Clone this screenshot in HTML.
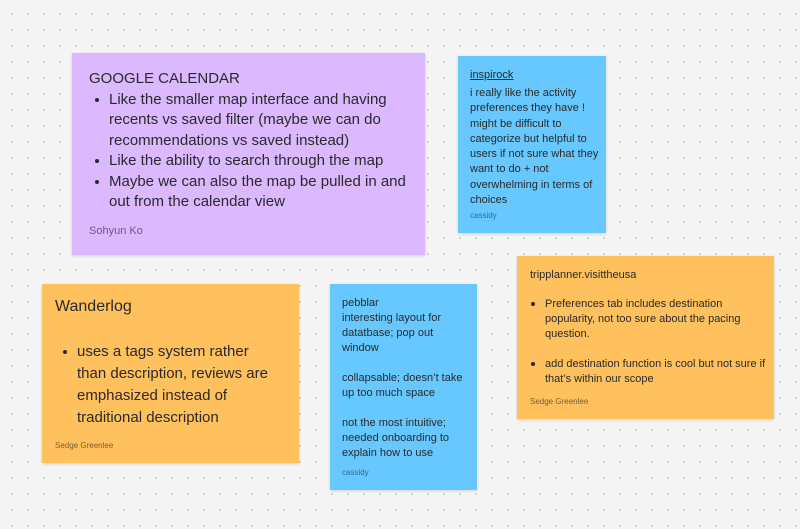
<!DOCTYPE html>
<html><head><meta charset="utf-8"><style>
html,body{margin:0;padding:0}
body{width:800px;height:529px;position:relative;overflow:hidden;background:#f5f5f5;
background-image:radial-gradient(circle,#cfcfcf 0.9px,transparent 1.2px);background-size:16px 16px;background-position:4px 6px;
font-family:"Liberation Sans",sans-serif;color:#2a2a2a}
.n{position:absolute;box-shadow:0 1px 3px rgba(0,0,0,0.15)}
.t{position:absolute;white-space:nowrap}
.b::before{content:"";position:absolute;left:-14px;top:50%;width:4px;height:4px;border-radius:50%;background:#2a2a2a;margin-top:-2px}
</style></head><body>
<div class="n" style="left:72px;top:53px;width:353px;height:202px;background:#dcb8fe"></div>
<div class="t" style="left:89px;top:70px;font-size:15px">GOOGLE CALENDAR</div>
<div class="t b" style="left:109px;top:91px;font-size:15px">Like the smaller map interface and having</div>
<div class="t" style="left:109px;top:111px;font-size:15px">recents vs saved filter (maybe we can do</div>
<div class="t" style="left:109px;top:132px;font-size:15px">recommendations vs saved instead)</div>
<div class="t b" style="left:109px;top:152px;font-size:15px">Like the ability to search through the map</div>
<div class="t b" style="left:109px;top:173px;font-size:15px">Maybe we can also the map be pulled in and</div>
<div class="t" style="left:109px;top:193px;font-size:15px">out from the calendar view</div>
<div class="t" style="left:89px;top:225px;font-size:11px;color:#6c5a80">Sohyun Ko</div>

<div class="n" style="left:458px;top:56px;width:148px;height:177px;background:#66c8ff"></div>
<div class="t" style="left:470px;top:69px;font-size:11px;text-decoration:underline">inspirock</div>
<div class="t" style="left:470px;top:86px;font-size:11px;line-height:15.3px">i really like the activity<br>preferences they have !<br>might be difficult to<br>categorize but helpful to<br>users if not sure what they<br>want to do + not<br>overwhelming in terms of<br>choices</div>
<div class="t" style="left:470px;top:211px;font-size:8px;color:#3a6a8a">cassidy</div>

<div class="n" style="left:42px;top:284px;width:257px;height:179px;background:#ffc05e"></div>
<div class="t" style="left:55px;top:298px;font-size:16px">Wanderlog</div>
<div class="t b" style="left:77px;top:343px;font-size:15px">uses a tags system rather</div>
<div class="t" style="left:77px;top:365px;font-size:15px">than description, reviews are</div>
<div class="t" style="left:77px;top:387px;font-size:15px">emphasized instead of</div>
<div class="t" style="left:77px;top:409px;font-size:15px">traditional description</div>
<div class="t" style="left:55px;top:441px;font-size:8px;color:#7a6030">Sedge Greenlee</div>

<div class="n" style="left:330px;top:284px;width:147px;height:206px;background:#66c8ff"></div>
<div class="t" style="left:342px;top:296px;font-size:11px;line-height:15px">pebblar<br>interesting layout for<br>datatbase; pop out<br>window<br><br>collapsable; doesn’t take<br>up too much space<br><br>not the most intuitive;<br>needed onboarding to<br>explain how to use</div>
<div class="t" style="left:342px;top:468px;font-size:8px;color:#3a6a8a">cassidy</div>

<div class="n" style="left:517px;top:256px;width:257px;height:163px;background:#ffc05e"></div>
<div class="t" style="left:530px;top:269px;font-size:11px">tripplanner.visittheusa</div>
<div class="t b" style="left:545px;top:298px;font-size:11px">Preferences tab includes destination</div>
<div class="t" style="left:545px;top:313px;font-size:11px">popularity, not too sure about the pacing</div>
<div class="t" style="left:545px;top:328px;font-size:11px">question.</div>
<div class="t b" style="left:545px;top:358px;font-size:11px">add destination function is cool but not sure if</div>
<div class="t" style="left:545px;top:373px;font-size:11px">that’s within our scope</div>
<div class="t" style="left:530px;top:397px;font-size:8px;color:#7a6030">Sedge Greenlee</div>
</body></html>
